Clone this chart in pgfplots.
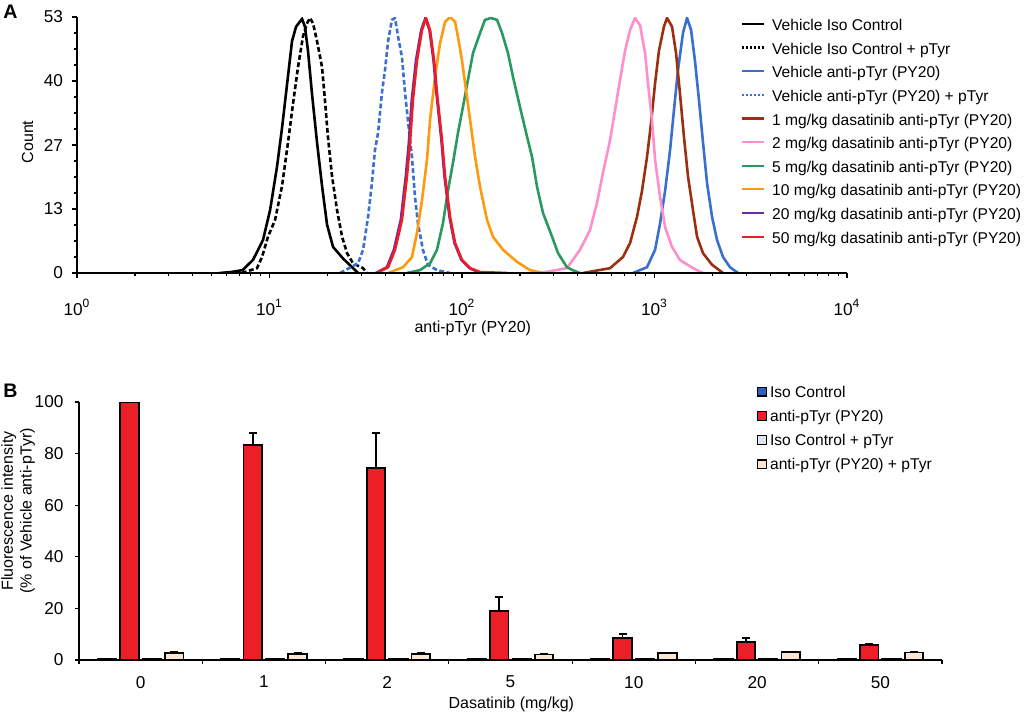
\documentclass[border=0pt]{standalone}
\usepackage{fontspec}
\setmainfont{Liberation Sans}
\usepackage{pgfplots}
\pgfplotsset{compat=1.18}
\definecolor{cBlue}{HTML}{3A6FD0}
\definecolor{cBrown}{HTML}{9A3010}
\definecolor{cPink}{HTML}{FF8FCB}
\definecolor{cGreen}{HTML}{2A9A5C}
\definecolor{cOrange}{HTML}{FF9A10}
\definecolor{cPurple}{HTML}{6A2CA8}
\definecolor{cRed}{HTML}{EE1C24}
\definecolor{bBlue}{HTML}{2F5FBF}
\definecolor{bRed}{HTML}{EC1F26}
\definecolor{bLight}{HTML}{DDE7F3}
\definecolor{bCream}{HTML}{FAE6D4}
\begin{document}
\begin{tikzpicture}
\useasboundingbox (0,0) rectangle (515.5pt,357pt);
\node[anchor=base west, inner sep=0pt, font=\bfseries\fontsize{9.8}{11}\selectfont] at (1.5pt,347.75pt) {A};
\node[anchor=base west, inner sep=0pt, font=\bfseries\fontsize{9.8}{11}\selectfont] at (1.5pt,158.5pt) {B};
% ---------------- Panel A ----------------
\begin{axis}[
  at={(38.5pt,220.5pt)}, anchor=south west,
  scale only axis, width=385pt, height=128pt,
  xmin=0, xmax=4, ymin=0, ymax=53,
  axis lines=left, axis line style={-, line width=0.9pt},
  axis on top,
  tick align=outside,
  major tick length=2.5pt, minor tick length=1.5pt,
  every tick/.style={black, line width=0.6pt},
  xtick={0,1,2,3,4},
  xticklabels={10\textsuperscript{0},10\textsuperscript{1},10\textsuperscript{2},10\textsuperscript{3},10\textsuperscript{4}},
  minor xtick={0.301,0.477,0.602,0.699,0.778,0.845,0.903,0.954,
    1.301,1.477,1.602,1.699,1.778,1.845,1.903,1.954,
    2.301,2.477,2.602,2.699,2.778,2.845,2.903,2.954,
    3.301,3.477,3.602,3.699,3.778,3.845,3.903,3.954},
  ytick={0,13.25,26.5,39.75,53},
  yticklabels={0,13,27,40,53},
  minor ytick={3.3125,6.625,9.9375,16.5625,19.875,23.1875,29.8125,33.125,36.4375,43.0625,46.375,49.6875},
  /pgf/number format/assume math mode=true,
  ticklabel style={font=\fontsize{8.6}{10}\selectfont},
  xticklabel style={yshift=-7pt},
  yticklabel style={xshift=-1pt},
  xlabel={anti-pTyr (PY20)},
  xlabel style={at={(axis description cs:0.514,-0.2305)}, anchor=base, font=\fontsize{8}{10}\selectfont},
  ylabel={Count},
  ylabel style={at={(axis description cs:-0.0571,0.512)}, anchor=base, font=\fontsize{8}{10}\selectfont},
  no markers,
  legend style={at={(0.8623,1.0035)}, anchor=north west, draw=none, fill=none,
    inner sep=0pt, outer sep=0pt, font=\fontsize{7.8}{9}\selectfont,
    row sep=4.02pt, column sep=3.5pt,
    nodes={inner sep=0pt, text height=7.2pt, text depth=0.6pt}},
  legend cell align=left,
  legend image code/.code={\draw[#1] (0pt,0pt) -- (11pt,0pt);},
]
\addlegendimage{black, line width=1.1pt}
\addlegendentry{Vehicle Iso Control}
\addlegendimage{black, line width=1.1pt, dash pattern=on 1pt off 1pt}
\addlegendentry{Vehicle Iso Control + pTyr}
\addlegendimage{cBlue, line width=1.1pt}
\addlegendentry{Vehicle anti-pTyr (PY20)}
\addlegendimage{cBlue, line width=1.1pt, dash pattern=on 1pt off 1pt}
\addlegendentry{Vehicle anti-pTyr (PY20) + pTyr}
\addlegendimage{cBrown, line width=1.1pt}
\addlegendentry{1 mg/kg dasatinib anti-pTyr (PY20)}
\addlegendimage{cPink, line width=1.1pt}
\addlegendentry{2 mg/kg dasatinib anti-pTyr (PY20)}
\addlegendimage{cGreen, line width=1.1pt}
\addlegendentry{5 mg/kg dasatinib anti-pTyr (PY20)}
\addlegendimage{cOrange, line width=1.1pt}
\addlegendentry{10 mg/kg dasatinib anti-pTyr (PY20)}
\addlegendimage{cPurple, line width=1.1pt}
\addlegendentry{20 mg/kg dasatinib anti-pTyr (PY20)}
\addlegendimage{cRed, line width=1.1pt}
\addlegendentry{50 mg/kg dasatinib anti-pTyr (PY20)}
% Vehicle Iso Control
\addplot[black, line width=1.3pt, forget plot] coordinates {
(0.74,0) (0.80,0.2) (0.86,0.6) (0.914,2.7) (0.966,6.8) (1.003,13) (1.039,22) (1.065,30) (1.091,39) (1.117,48) (1.138,51) (1.169,52.6) (1.184,51) (1.200,46) (1.221,37) (1.247,27) (1.273,18) (1.299,10) (1.330,5.4) (1.382,3) (1.434,1) (1.460,0)};
% Vehicle Iso Control + pTyr
\addplot[black, line width=1.3pt, dash pattern=on 2.4pt off 1.3pt, forget plot] coordinates {
(0.857,0) (0.935,1) (0.961,3.3) (0.992,7.5) (1.029,11) (1.065,18) (1.096,27) (1.122,35) (1.148,42.6) (1.174,49) (1.195,51.7) (1.210,52.8) (1.226,51.7) (1.247,48) (1.273,42.6) (1.288,35.8) (1.304,28) (1.325,20) (1.351,13) (1.377,7.5) (1.403,4.1) (1.434,2) (1.486,1) (1.506,0)};
% Vehicle anti-pTyr
\addplot[cBlue, line width=1.3pt, forget plot] coordinates {
(2.888,0) (2.961,1.2) (3.003,4.8) (3.029,10.3) (3.055,17) (3.081,25.5) (3.101,33.7) (3.122,42) (3.148,49.7) (3.169,52.8) (3.190,50.3) (3.210,44) (3.231,35.8) (3.252,27) (3.273,18.6) (3.299,11.6) (3.325,6.8) (3.356,3.3) (3.392,1.2) (3.434,0)};
% Vehicle anti-pTyr + pTyr
\addplot[cBlue, line width=1.3pt, dash pattern=on 2.4pt off 1.3pt, forget plot] coordinates {
(1.366,0) (1.460,2) (1.486,4.8) (1.512,11.6) (1.532,18.6) (1.548,25.5) (1.564,29) (1.584,37.3) (1.600,42) (1.616,48) (1.636,52.4) (1.652,52.8) (1.668,48.9) (1.688,44.7) (1.704,37.3) (1.719,31.7) (1.740,24) (1.756,15.7) (1.771,10.3) (1.797,4.8) (1.823,1.7) (1.870,0.6) (1.938,0)};
% 1 mg/kg
\addplot[cBrown, line width=1.3pt, forget plot] coordinates {
(2.629,0) (2.769,1) (2.836,3.3) (2.873,6.2) (2.909,11.6) (2.935,17) (2.961,24) (2.982,31) (3.003,39.3) (3.023,46) (3.049,51) (3.065,52.8) (3.091,51) (3.112,45.5) (3.132,37.3) (3.153,28.2) (3.174,20) (3.200,13) (3.221,7.5) (3.252,4.1) (3.299,1.7) (3.356,0)};
% 2 mg/kg
\addplot[cPink, line width=1.3pt, forget plot] coordinates {
(2.405,0) (2.545,1) (2.613,4.8) (2.665,8.9) (2.701,14.5) (2.732,20.7) (2.769,27.5) (2.795,33.7) (2.821,40) (2.847,46) (2.873,50.3) (2.899,52.8) (2.925,51.3) (2.951,45.5) (2.966,39.3) (2.987,31.7) (3.003,23.4) (3.029,15.7) (3.055,9.5) (3.091,5.4) (3.132,2.7) (3.200,1) (3.252,0)};
% 5 mg/kg
\addplot[cGreen, line width=1.3pt, forget plot] coordinates {
(1.714,0) (1.782,0.6) (1.834,2) (1.870,4.8) (1.901,10.3) (1.927,17) (1.953,22.8) (1.979,29) (2.005,34.4) (2.031,40) (2.057,45.5) (2.094,49.7) (2.119,52.4) (2.150,52.8) (2.182,52.4) (2.208,49.7) (2.239,45.5) (2.265,40.6) (2.301,34.4) (2.338,28.2) (2.364,24) (2.390,17.8) (2.421,12.4) (2.468,7.5) (2.499,4.1) (2.545,1.2) (2.580,0.5) (2.613,0)};
% 10 mg/kg
\addplot[cOrange, line width=1.3pt, forget plot] coordinates {
(1.616,0) (1.694,1.2) (1.740,3.3) (1.766,8.3) (1.792,15) (1.818,23.4) (1.834,31.7) (1.860,40.6) (1.886,47.6) (1.912,52) (1.938,53) (1.964,52) (1.979,48.9) (2.000,44) (2.016,39.3) (2.042,31.7) (2.068,24) (2.094,17.8) (2.130,11) (2.161,7.5) (2.213,4.8) (2.286,2.3) (2.353,0.6) (2.420,0)};
% 20 mg/kg
\addplot[cPurple, line width=1.3pt, forget plot] coordinates {
(1.552,0) (1.610,1.2) (1.646,4.8) (1.682,11) (1.708,20) (1.724,27) (1.739,35.8) (1.761,44) (1.788,50.3) (1.810,52.8) (1.831,50.3) (1.852,44) (1.867,37.3) (1.893,27.5) (1.909,20) (1.935,11.6) (1.961,6.2) (1.997,2.7) (2.040,1) (2.094,0)};
% 50 mg/kg
\addplot[cRed, line width=1.3pt, forget plot] coordinates {
(1.558,0) (1.616,1.2) (1.652,4.8) (1.688,11) (1.714,20) (1.730,27) (1.745,35.8) (1.766,44) (1.792,50.3) (1.813,52.8) (1.834,50.3) (1.855,44) (1.870,37.3) (1.896,27.5) (1.912,20) (1.938,11.6) (1.964,6.2) (2.000,2.7) (2.042,1) (2.094,0.2) (2.234,0)};
\end{axis}
% ---------------- Panel B ----------------
\begin{axis}[
  at={(39.5pt,27pt)}, anchor=south west,
  scale only axis, width=431.5pt, height=129pt,
  xmin=-0.5, xmax=6.5, ymin=0, ymax=100,
  axis lines=left, axis line style={-, line width=0.9pt},
  tick align=outside,
  major tick length=2pt,
  every tick/.style={black, line width=0.6pt},
  xtick={-0.5,0.5,...,6.5},
  xticklabels={,,,,,,,,},
  extra x ticks={0,1,2,3,4,5,6},
  extra x tick labels={0,1,2,5,10,20,50},
  extra x tick style={major tick length=0pt},
  ytick={0,20,...,100}, yticklabels={0,20,40,60,80,100},
  /pgf/number format/assume math mode=true,
  ticklabel style={font=\fontsize{8.6}{10}\selectfont},
  xticklabel style={yshift=-4.5pt},
  yticklabel style={xshift=-2.25pt},
  xlabel={Dasatinib (mg/kg)},
  xlabel style={at={(axis description cs:0.501,-0.189)}, anchor=base, font=\fontsize{8}{10}\selectfont},
  ylabel={Fluorescence intensity\\(\% of Vehicle anti-pTyr)},
  ylabel style={at={(axis description cs:-0.0705,0.5775)}, anchor=center, align=center, font=\fontsize{8}{9.3}\selectfont},
  ybar=1.95pt, bar width=9.25pt,
  legend style={at={(0.7856,1.0694)}, anchor=north west, draw=none, fill=none,
    inner sep=0pt, outer sep=0pt, font=\fontsize{7.8}{9}\selectfont,
    row sep=4.5pt, column sep=1.5pt,
    nodes={inner sep=0pt, text height=6.6pt, text depth=1pt}},
  legend cell align=left,
  legend image code/.code={\draw[#1,draw=black,line width=0.65pt] (0pt,-2.2pt) rectangle (4.4pt,2.2pt);},
]
\addplot[fill=bBlue, draw=black, line width=0.9pt] coordinates {
(0,0.5) (1,0.5) (2,0.5) (3,0.5) (4,0.5) (5,0.5) (6,0.5)};
\addlegendentry{Iso Control}
\addplot[fill=bRed, draw=black, line width=0.9pt,
  error bars/.cd, y dir=plus, y explicit,
  error bar style={black, line width=0.9pt},
  error mark options={rotate=90, mark size=2pt, line width=0.9pt, black}] coordinates {
(0,99.9) +- (0,0) (1,83.3) +- (0,4.6) (2,74.5) +- (0,13.6) (3,19.1) +- (0,5.2) (4,8.6) +- (0,1.5) (5,7.1) +- (0,1.3) (6,5.8) +- (0,0.3)};
\addlegendentry{anti-pTyr (PY20)}
\addplot[fill=bLight, draw=black, line width=0.9pt] coordinates {
(0,0.6) (1,0.6) (2,0.6) (3,0.6) (4,0.6) (5,0.6) (6,0.6)};
\addlegendentry{Iso Control + pTyr}
\addplot[fill=bCream, draw=black, line width=0.9pt,
  error bars/.cd, y dir=plus, y explicit,
  error bar style={black, line width=0.9pt},
  error mark options={rotate=90, mark size=2pt, line width=0.9pt, black}] coordinates {
(0,2.7) +- (0,0.3) (1,2.3) +- (0,0.3) (2,2.4) +- (0,0.4) (3,2.1) +- (0,0.3) (4,2.6) +- (0,0.2) (5,3.0) +- (0,0.2) (6,2.9) +- (0,0.2)};
\addlegendentry{anti-pTyr (PY20) + pTyr}
\end{axis}
\end{tikzpicture}
\end{document}
